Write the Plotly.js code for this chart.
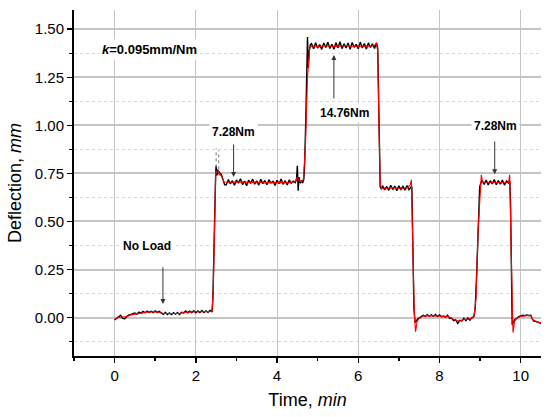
<!DOCTYPE html>
<html>
<head>
<meta charset="utf-8">
<script src="https://cdn.plot.ly/plotly-3.0.1.min.js"></script>
<style>html,body{margin:0;padding:0;background:#fff;}#chart{width:550px;height:417px;}</style>
</head>
<body>
<div id="chart"></div>
<script>
// Measured (noisy) deflection, black
const timeRaw = [
  0,0.05,0.10,0.15,0.20,0.25,0.30,0.35,0.40,0.45,0.50,0.55,0.60,0.65,0.70,0.75,0.80,0.85,0.90,0.95,
  1.00,1.05,1.10,1.15,1.20,1.25,1.30,1.35,1.40,1.45,1.50,1.55,1.60,1.65,1.70,1.75,1.80,1.85,1.90,1.95,
  2.00,2.05,2.10,2.15,2.20,2.25,2.30,2.35,2.40,
  2.42,2.45,2.47,2.49,2.50,2.52,2.54,2.56,2.58,2.60,2.62,2.65,2.68,2.71,
  2.75,2.80,2.85,2.90,2.95,3.00,3.05,3.10,3.15,3.20,3.25,3.30,3.35,3.40,3.45,3.50,3.55,3.60,3.65,3.70,
  3.75,3.80,3.85,3.90,3.95,4.00,4.05,4.10,4.15,4.20,4.25,4.30,4.35,4.40,4.45,
  4.48,4.50,4.52,4.54,4.57,4.60,4.63,4.66,4.68,4.71,4.73,4.75,4.77,4.79,4.82,
  4.85,4.90,4.95,5.00,5.05,5.10,5.15,5.20,5.25,5.30,5.35,5.40,5.45,5.50,5.55,5.60,5.65,5.70,5.75,5.80,
  5.85,5.90,5.95,6.00,6.05,6.10,6.15,6.20,6.25,6.30,6.35,6.40,6.45,
  6.48,6.50,6.52,6.54,6.57,
  6.60,6.65,6.70,6.75,6.80,6.85,6.90,6.95,7.00,7.05,7.10,7.15,7.20,7.25,7.30,7.32,
  7.34,7.37,7.40,7.43,7.46,7.50,7.55,
  7.60,7.65,7.70,7.75,7.80,7.85,7.90,7.95,8.00,8.05,8.10,8.15,8.20,8.25,8.30,8.35,8.40,8.45,8.50,8.55,
  8.60,8.65,8.70,8.75,8.80,8.85,
  8.88,8.92,8.96,8.99,9.02,
  9.05,9.10,9.15,9.20,9.25,9.30,9.35,9.40,9.45,9.50,9.55,9.60,9.65,9.70,
  9.73,9.75,9.77,9.79,9.82,9.85,9.90,9.95,10.00,10.05,10.10,10.15,10.20,10.25,10.28,10.32,10.36,10.40,10.45,10.50
];
const deflRaw = [
  -0.012,-0.003,0.006,0.012,-0.004,-0.006,0.005,0.014,0.016,0.020,0.024,0.018,0.028,0.023,0.032,0.025,0.034,0.027,0.033,0.026,
  0.035,0.027,0.032,0.024,0.017,0.026,0.016,0.024,0.015,0.025,0.018,0.026,0.016,0.027,0.024,0.034,0.025,0.033,0.026,0.036,
  0.025,0.034,0.026,0.037,0.026,0.035,0.027,0.037,0.029,
  0.10,0.45,0.70,0.76,0.79,0.74,0.77,0.75,0.76,0.74,0.75,0.73,0.72,0.69,
  0.690,0.718,0.695,0.712,0.688,0.716,0.700,0.722,0.692,0.710,0.686,0.715,0.698,0.720,0.694,0.711,0.689,0.719,0.697,0.713,
  0.691,0.717,0.700,0.709,0.687,0.714,0.696,0.721,0.693,0.712,0.690,0.716,0.699,0.710,0.702,
  0.72,0.79,0.66,0.73,0.70,0.71,0.70,0.72,0.80,1.05,1.25,1.46,1.30,1.38,1.42,
  1.425,1.398,1.430,1.402,1.420,1.395,1.428,1.405,1.432,1.400,1.422,1.396,1.430,1.404,1.435,1.399,1.424,1.402,1.428,1.395,
  1.431,1.406,1.421,1.398,1.433,1.403,1.426,1.397,1.429,1.405,1.424,1.400,1.427,
  1.40,1.10,0.80,0.68,0.668,
  0.686,0.664,0.682,0.662,0.688,0.666,0.684,0.660,0.685,0.667,0.683,0.663,0.687,0.665,0.680,0.678,
  0.40,0.05,-0.026,-0.020,-0.008,-0.002,0.006,
  0.012,0.006,0.015,0.007,0.014,0.006,0.016,0.005,0.014,0.004,0.008,0.002,0.012,-0.004,-0.004,-0.016,-0.012,-0.030,-0.014,-0.018,
  -0.004,-0.016,-0.002,-0.014,0.000,0.005,
  0.05,0.25,0.55,0.68,0.70,
  0.714,0.692,0.716,0.690,0.712,0.695,0.718,0.691,0.713,0.694,0.715,0.689,0.711,0.700,
  0.71,0.60,0.20,-0.038,-0.025,-0.010,-0.005,0.005,0.008,0.012,0.010,0.013,0.011,0.012,-0.005,-0.018,-0.020,-0.024,-0.028,-0.030
];
// Loading spikes near 2.5 min (grey dotted)
const timeSpike = [2.50,2.50,null,2.565,2.565];
const deflSpike = [0.75,0.88,null,0.74,0.87];
// Smoothed deflection, red
const timeFit = [
  0,0.1,0.2,0.3,0.4,0.5,0.6,0.7,0.8,0.9,1.0,1.1,1.2,1.3,1.4,1.5,1.6,1.7,1.8,1.9,2.0,2.1,2.2,2.3,2.4,
  2.43,2.46,2.49,2.55,2.62,2.70,2.8,2.9,3.0,3.1,3.2,3.3,3.4,3.5,3.6,3.7,3.8,3.9,4.0,4.1,4.2,4.3,4.4,
  4.45,4.50,4.55,4.60,4.65,4.70,4.75,4.80,4.85,4.9,5.0,5.1,5.2,5.3,5.4,5.5,5.6,5.7,5.8,5.9,6.0,6.1,6.2,6.3,6.4,
  6.45,6.48,6.51,6.54,6.57,6.7,6.8,6.9,7.0,7.1,7.2,7.28,7.31,7.34,7.38,7.41,7.45,7.5,
  7.6,7.7,7.8,7.9,8.0,8.1,8.2,8.3,8.4,8.5,8.6,8.7,8.8,8.85,8.9,8.95,9.0,9.03,9.06,
  9.2,9.3,9.4,9.5,9.6,9.7,9.73,9.76,9.79,9.81,9.85,9.9,10.0,10.1,10.2,10.25,10.3,10.4,10.5
];
const deflFit = [
  -0.008,0.000,0.003,0.005,0.014,0.018,0.022,0.026,0.028,0.029,0.030,0.026,0.021,0.021,0.020,0.021,0.021,0.027,0.029,0.029,0.030,0.030,0.031,0.031,0.032,
  0.15,0.55,0.755,0.760,0.74,0.705,0.703,0.704,0.706,0.705,0.704,0.702,0.703,0.705,0.703,0.700,0.702,0.704,0.703,0.702,0.704,0.703,0.704,
  0.710,0.730,0.710,0.705,0.72,0.90,1.25,1.40,1.412,1.413,1.410,1.412,1.414,1.412,1.410,1.411,1.413,1.415,1.412,1.410,1.412,1.414,1.413,1.412,1.415,
  1.43,1.38,1.00,0.70,0.672,0.674,0.673,0.675,0.673,0.674,0.674,0.690,0.717,0.40,0.02,-0.073,-0.02,-0.005,
  0.008,0.010,0.010,0.009,0.008,0.005,0.006,-0.004,-0.015,-0.018,-0.010,-0.008,-0.004,0.005,0.10,0.45,0.68,0.743,0.705,
  0.703,0.702,0.703,0.702,0.701,0.703,0.743,0.40,-0.02,-0.078,-0.02,-0.005,0.006,0.010,0.011,0.010,-0.012,-0.022,-0.028
];
// Annotation labels
const labelText = ['<b><i>k</i>=0.095mm/Nm</b>','<b>No Load</b>','<b>7.28Nm</b>','<b>14.76Nm</b>','<b>7.28Nm</b>'];
const labelX = [0.85,0.79,2.93,5.65,9.38];
const labelY = [1.397,0.37,0.967,1.0625,0.996];
const labelSize = [13,12,12,12,12];
// Arrows: tip and tail
const arrowX = [1.19,2.93,5.40,9.36];
const arrowTipY = [0.071,0.731,1.366,0.746];
const arrowTailY = [0.269,0.908,1.132,0.924];

const traces = [
  {x: timeRaw, y: deflRaw, mode:'lines', line:{color:'#000', width:1.4}, hoverinfo:'skip'},
  {x: timeSpike, y: deflSpike, mode:'lines', line:{color:'#777', width:1, dash:'dot'}, hoverinfo:'skip'},
  {x: timeFit, y: deflFit, mode:'lines', line:{color:'#ff0000', width:1.1}, hoverinfo:'skip'}
];

const annotations = [];
labelText.forEach((t,i)=>{
  annotations.push({x:labelX[i], y:labelY[i], xref:'x', yref:'y', text:t, showarrow:false,
    font:{family:'Liberation Sans, Arial, sans-serif', size:labelSize[i], color:'#000'},
    bgcolor:'#fff', borderpad:2});
});
arrowX.forEach((x,i)=>{
  annotations.push({x:x, y:arrowTipY[i], ax:x, ay:arrowTailY[i], xref:'x', yref:'y', axref:'x', ayref:'y',
    text:'', showarrow:true, arrowhead:2, arrowsize:1, arrowwidth:1, arrowcolor:'#333', standoff:0});
});

const fontFam = 'Liberation Sans, Arial, sans-serif';
const layout = {
  width:550, height:417,
  margin:{l:74, r:9, t:10, b:61},
  paper_bgcolor:'#fff', plot_bgcolor:'#fff',
  showlegend:false,
  font:{family:fontFam, color:'#000'},
  xaxis:{
    range:[-1,10.5], tick0:0, dtick:2, ticks:'outside', ticklen:5, tickwidth:1.5, tickcolor:'#000',
    showline:true, linecolor:'#000', linewidth:2, zeroline:false,
    showgrid:true, gridcolor:'#c4c4c4', gridwidth:1,
    minor:{dtick:1, tick0:0, ticks:'outside', ticklen:3, tickwidth:1.5, tickcolor:'#000', showgrid:false},
    tickfont:{family:fontFam, size:15, color:'#000'},
    title:{text:'Time, <i>min</i>', font:{family:fontFam, size:18, color:'#000'}, standoff:10}
  },
  yaxis:{
    range:[-0.2,1.6], tick0:0, dtick:0.25, tickformat:'.2f', ticks:'outside', ticklen:5, tickwidth:1.5, tickcolor:'#000',
    showline:true, linecolor:'#000', linewidth:2, zeroline:false,
    showgrid:true, gridcolor:'#c4c4c4', gridwidth:2,
    minor:{dtick:0.125, tick0:0, ticks:'outside', ticklen:3, tickwidth:1.5, tickcolor:'#000', showgrid:true, griddash:'dot', gridcolor:'#d6d6d6', gridwidth:1},
    tickfont:{family:fontFam, size:15, color:'#000'},
    title:{text:'Deflection, <i>mm</i>', font:{family:fontFam, size:18, color:'#000'}, standoff:8}
  },
  annotations: annotations
};

Plotly.newPlot('chart', traces, layout, {staticPlot:true, displayModeBar:false});
</script>
</body>
</html>
